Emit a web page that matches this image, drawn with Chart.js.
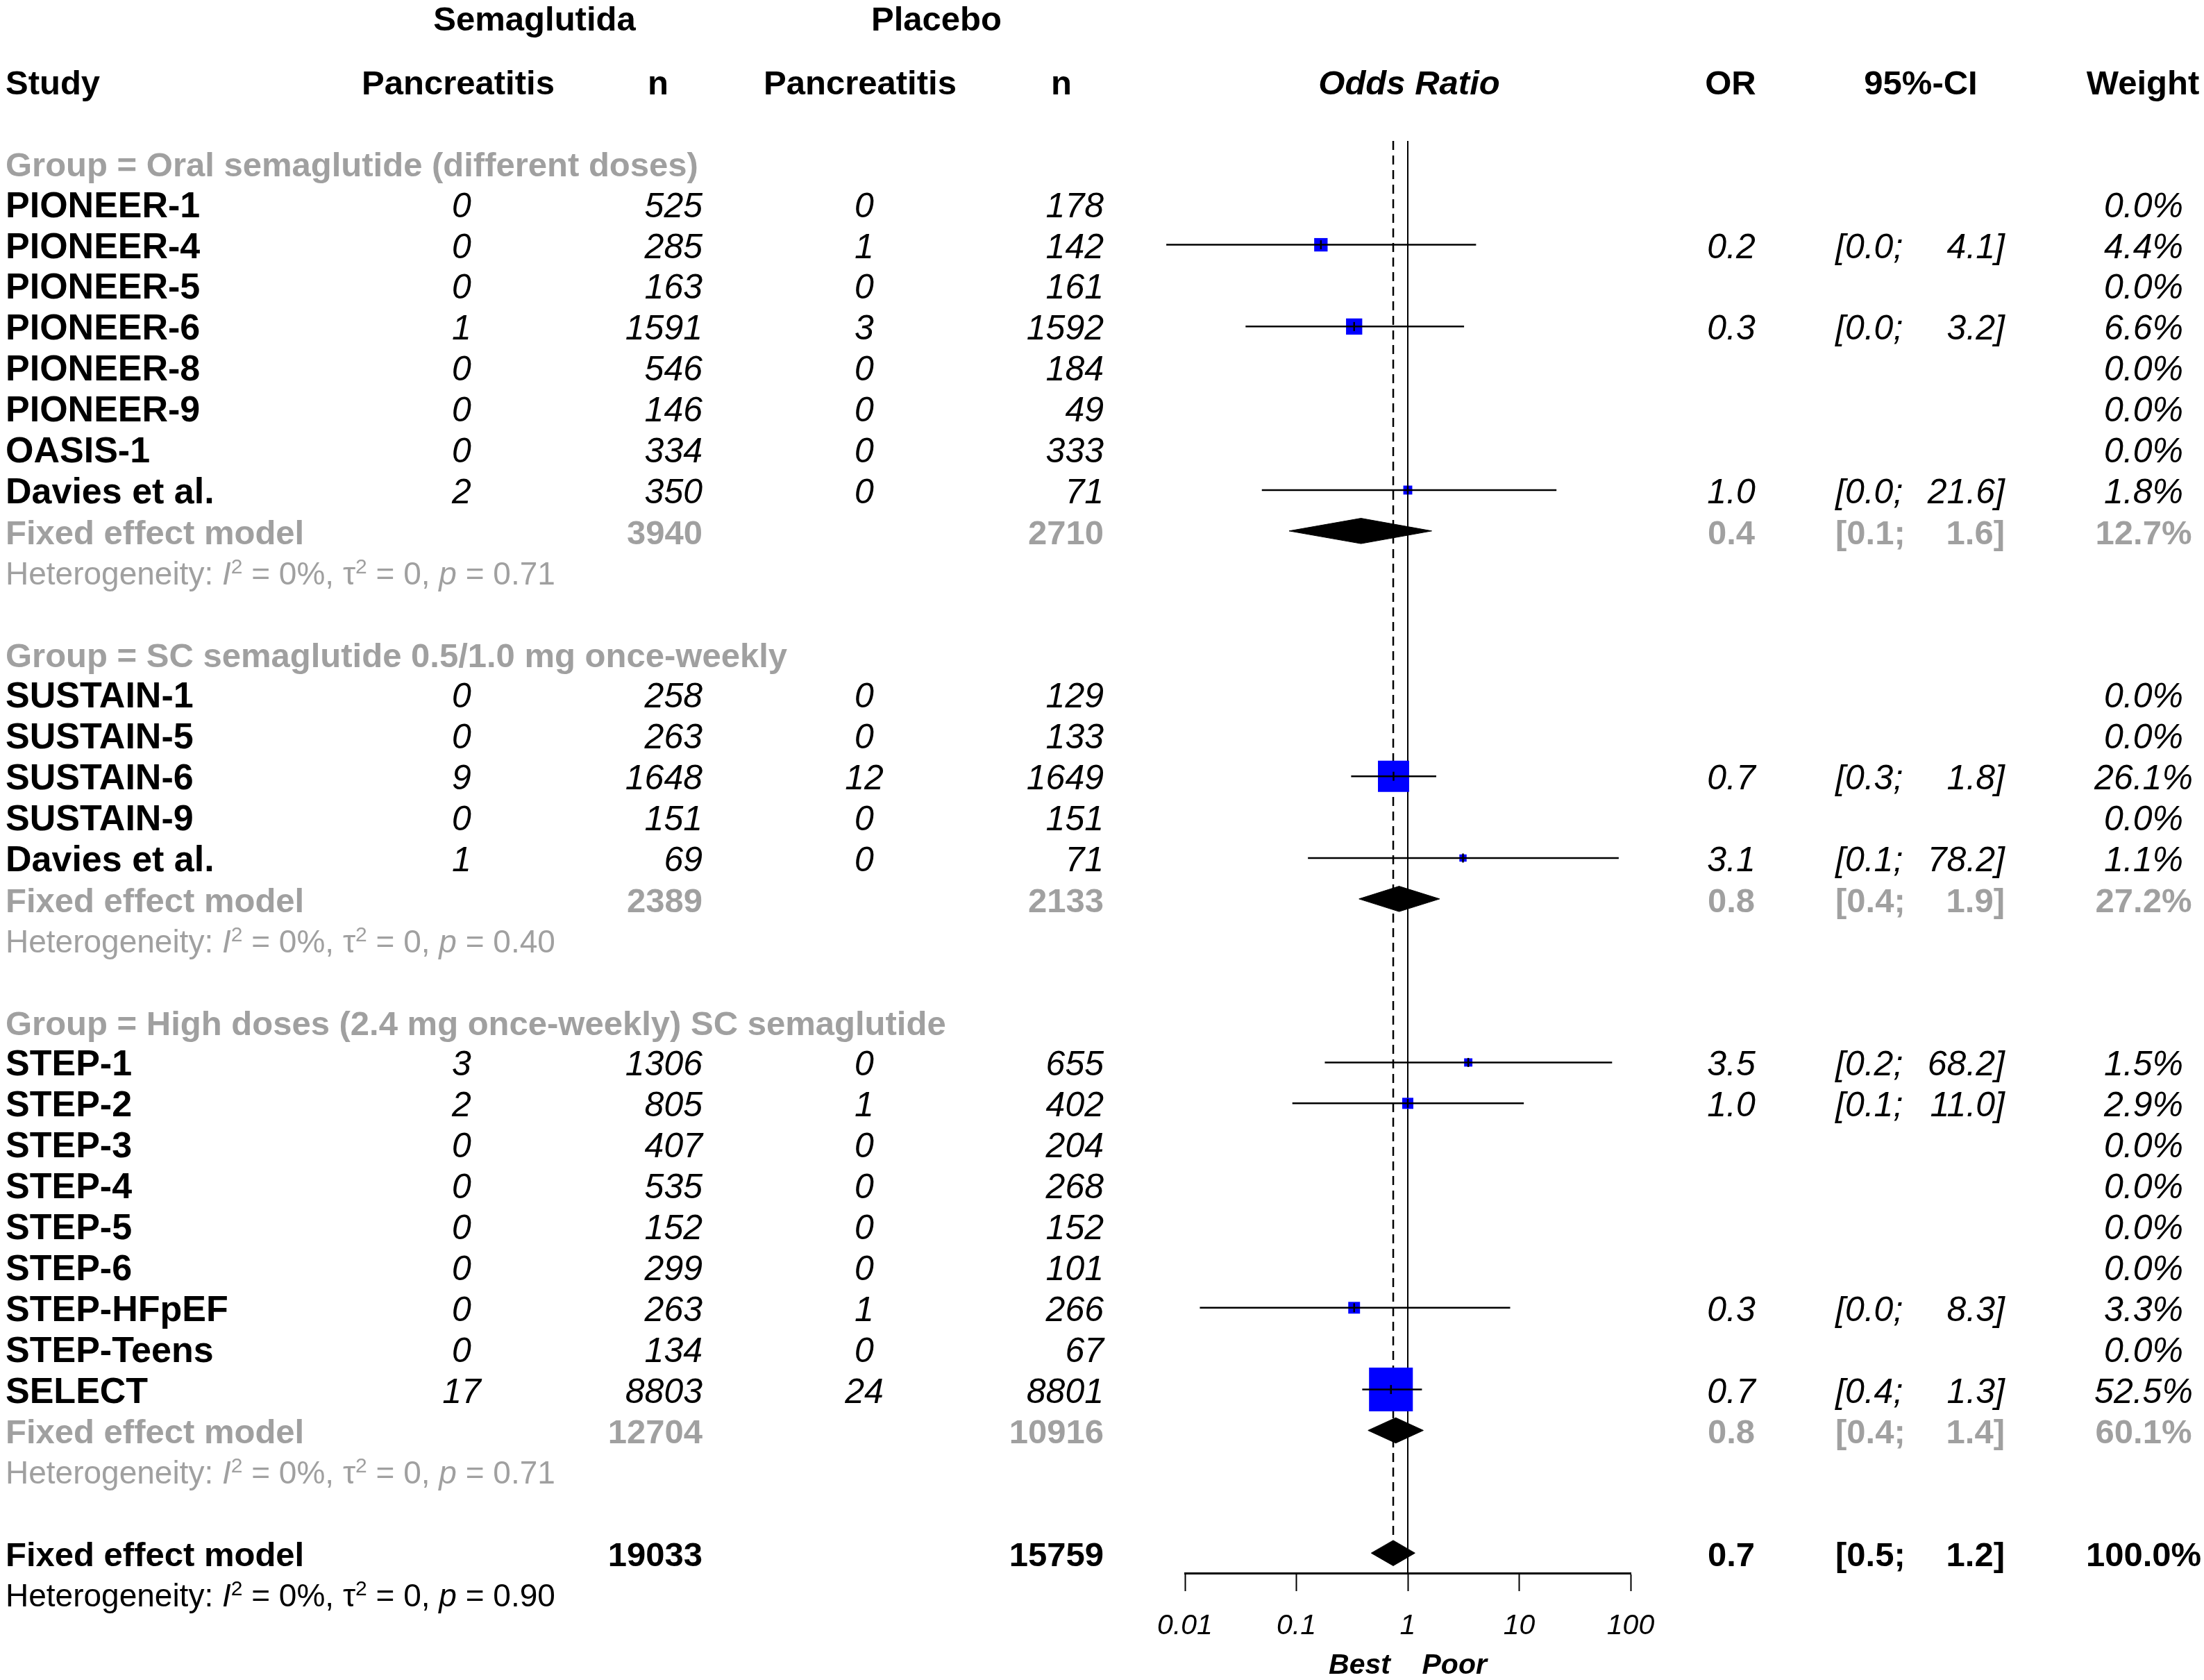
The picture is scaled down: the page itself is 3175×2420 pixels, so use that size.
<!DOCTYPE html>
<html>
<head>
<meta charset="utf-8">
<script src="https://cdn.jsdelivr.net/npm/chart.js@4.4.1/dist/chart.umd.min.js"></script>
<style>
  html, body { margin: 0; padding: 0; background: #fff; overflow: hidden; }
  #c { display: block; }
</style>
</head>
<body>
<canvas id="c" width="3175" height="2420"></canvas>
<script>
// ---- data ----
const groupTitles = [
    'Group = Oral semaglutide (different doses)',
    'Group = SC semaglutide 0.5/1.0 mg once-weekly',
    'Group = High doses (2.4 mg once-weekly) SC semaglutide'
];
const studyNames = ['PIONEER-1', 'PIONEER-4', 'PIONEER-5', 'PIONEER-6', 'PIONEER-8', 'PIONEER-9', 'OASIS-1', 'Davies et al.',
    'SUSTAIN-1', 'SUSTAIN-5', 'SUSTAIN-6', 'SUSTAIN-9', 'Davies et al.',
    'STEP-1', 'STEP-2', 'STEP-3', 'STEP-4', 'STEP-5', 'STEP-6', 'STEP-HFpEF', 'STEP-Teens', 'SELECT'];
const studyGroup    = [0, 0, 0, 0, 0, 0, 0, 0, 1, 1, 1, 1, 1, 2, 2, 2, 2, 2, 2, 2, 2, 2];
const semaEvents    = [0, 0, 0, 1, 0, 0, 0, 2, 0, 0, 9, 0, 1, 3, 2, 0, 0, 0, 0, 0, 0, 17];
const semaN         = [525, 285, 163, 1591, 546, 146, 334, 350, 258, 263, 1648, 151, 69, 1306, 805, 407, 535, 152, 299, 263, 134, 8803];
const placeboEvents = [0, 1, 0, 3, 0, 0, 0, 0, 0, 0, 12, 0, 0, 0, 1, 0, 0, 0, 0, 1, 0, 24];
const placeboN      = [178, 142, 161, 1592, 184, 49, 333, 71, 129, 133, 1649, 151, 71, 655, 402, 204, 268, 152, 101, 266, 67, 8801];
const oddsRatio = [null, 0.166, null, 0.33, null, null, null, 1.0, null, null, 0.745, null, 3.13, 3.49, 1.0, null, null, null, null, 0.33, null, 0.706];
const ciLower   = [null, 0.0068, null, 0.035, null, null, null, 0.049, null, null, 0.31, null, 0.127, 0.18, 0.092, null, null, null, null, 0.0136, null, 0.39];
const ciUpper   = [null, 4.1, null, 3.2, null, null, null, 21.6, null, null, 1.8, null, 78.2, 68.2, 11.0, null, null, null, null, 8.3, null, 1.34];
const weightPct = [0, 4.4, 0, 6.6, 0, 0, 0, 1.8, 0, 0, 26.1, 0, 1.1, 1.5, 2.9, 0, 0, 0, 0, 3.3, 0, 52.5];
// subgroups 1..3, then overall
const pooledOR     = [0.38, 0.836, 0.78, 0.74];
const pooledLower  = [0.086, 0.365, 0.44, 0.47];
const pooledUpper  = [1.64, 1.93, 1.38, 1.16];
const pooledWeight = [12.7, 27.2, 60.1, 100.0];
const hetI2  = ['0%', '0%', '0%', '0%'];
const hetTau = ['0', '0', '0', '0'];
const hetP   = ['0.71', '0.40', '0.71', '0.90'];
const axisTicks = [0.01, 0.1, 1, 10, 100];
const axisTickLabels = ['0.01', '0.1', '1', '10', '100'];

// ---- layout ----
const FAM = '"Liberation Sans", Arial, sans-serif';
const GRAY = '#a0a0a0';
const BLUE = '#0000ff';
const FS = 50, FS_NAME = 52, FS_HEAD = 49, FS_HET = 46;
const BASE = 19;           // baseline offset below row centre
const DIAMOND_H = 0.31;    // half height of diamonds, in rows
const yMin = 1.46, yMax = 36.49;
const COL = { study: 8, semaEv: 665, semaN: 1012, placEv: 1245, placN: 1590, or: 2494, ciL: 2644, ciR: 2888, w: 3088 };
const font = (size, bold, italic) => `${italic ? 'italic ' : ''}${bold ? 'bold ' : ''}${size}px ${FAM}`;

// rows: header row 0, group blocks from row 2
const groupRow = [], pooledRow = [], hetRow = [], studyRow = [];
let r = 2;
groupTitles.forEach((t, g) => {
    groupRow[g] = r++;
    studyNames.forEach((s, i) => { if (studyGroup[i] === g) studyRow[i] = r++; });
    pooledRow[g] = r++;
    hetRow[g] = r++;
    r++;
});
pooledRow[3] = r; hetRow[3] = r + 1;

const sum = (arr, g) => arr.reduce((a, v, i) => a + (g == null || studyGroup[i] === g ? v : 0), 0);

// ---- datasets ----
const datasets = [];
datasets.push({ data: [{ x: 1, y: yMin }, { x: 1, y: yMax }], borderColor: '#000', borderWidth: 2, pointRadius: 0, order: 5 });
datasets.push({ data: [{ x: pooledOR[3], y: yMin }, { x: pooledOR[3], y: pooledRow[3] - DIAMOND_H }],
    borderColor: '#000', borderWidth: 2.5, borderDash: [13, 8], pointRadius: 0, order: 5 });
const sq = [], sqR = [];
studyNames.forEach((s, i) => {
    if (oddsRatio[i] == null) return;
    datasets.push({ data: [{ x: ciLower[i], y: studyRow[i] }, { x: ciUpper[i], y: studyRow[i] }],
        borderColor: '#000', borderWidth: 2.5, pointRadius: 0, clip: false, order: 2 });
    sq.push({ x: oddsRatio[i], y: studyRow[i] });
    sqR.push((8.5 * Math.sqrt(weightPct[i]) + 1.5) / Math.SQRT2);
});
datasets.push({ data: sq, showLine: false, pointStyle: 'rect', pointRadius: sqR, pointHoverRadius: sqR,
    pointBackgroundColor: BLUE, pointBorderWidth: 0, order: 3 });
datasets.push({ data: sq, showLine: false, pointStyle: 'line', pointRotation: 90, pointRadius: 6.5, pointHoverRadius: 6.5,
    pointBorderColor: '#000', pointBorderWidth: 2.5, order: 1 });
pooledOR.forEach((or, g) => {
    const y = pooledRow[g];
    datasets.push({ data: [{ x: pooledLower[g], y }, { x: or, y: y - DIAMOND_H }, { x: pooledUpper[g], y }],
        borderColor: '#000', borderWidth: 1, backgroundColor: '#000', fill: '+1', pointRadius: 0, order: 0 });
    datasets.push({ data: [{ x: pooledLower[g], y }, { x: or, y: y + DIAMOND_H }, { x: pooledUpper[g], y }],
        borderColor: '#000', borderWidth: 1, fill: false, pointRadius: 0, order: 0 });
});

// ---- table text ----
function txt(ctx, s, x, y, align, f, color) {
    ctx.font = f; ctx.fillStyle = color; ctx.textAlign = align; ctx.textBaseline = 'alphabetic';
    ctx.fillText(s, x, y + BASE);
}
function hetText(ctx, g, y, color) {
    const n = font(FS_HET, false, false), sup = font(30, false, false);
    const parts = [
        ['Heterogeneity: ', n, 0], ['I', font(FS_HET, false, true), 0], ['2', sup, -16],
        [' = ' + hetI2[g] + ', ', n, 0], ['τ', n, 0], ['2', sup, -16],
        [' = ' + hetTau[g] + ', ', n, 0], ['p', font(FS_HET, false, true), 0], [' = ' + hetP[g], n, 0]
    ];
    let x = COL.study;
    ctx.fillStyle = color; ctx.textAlign = 'left'; ctx.textBaseline = 'alphabetic';
    parts.forEach(([s, f, dy]) => { ctx.font = f; ctx.fillText(s, x, y + BASE - 1 + dy); x += ctx.measureText(s).width; });
}
const tablePlugin = {
    id: 'forestTable',
    afterDraw(chart) {
        const ctx = chart.ctx, ys = chart.scales.y, xs = chart.scales.x;
        const Y = (row) => ys.getPixelForValue(row);
        ctx.save();
        const hb = font(FS_HEAD, true, false);
        txt(ctx, 'Semaglutida', 770, Y(-1.57), 'center', hb, '#000');
        txt(ctx, 'Placebo', 1349, Y(-1.57), 'center', hb, '#000');
        txt(ctx, 'Study', COL.study, Y(0), 'left', hb, '#000');
        txt(ctx, 'Pancreatitis', 660, Y(0), 'center', hb, '#000');
        txt(ctx, 'n', 948, Y(0), 'center', hb, '#000');
        txt(ctx, 'Pancreatitis', 1239, Y(0), 'center', hb, '#000');
        txt(ctx, 'n', 1529, Y(0), 'center', hb, '#000');
        txt(ctx, 'Odds Ratio', xs.getPixelForValue(1) + 2, Y(0), 'center', font(FS_HEAD, true, true), '#000');
        txt(ctx, 'OR', 2493, Y(0), 'center', hb, '#000');
        txt(ctx, '95%-CI', 2767, Y(0), 'center', hb, '#000');
        txt(ctx, 'Weight', 3087, Y(0), 'center', hb, '#000');

        const it = font(FS, false, true), nb = font(FS_NAME, true, false);
        studyNames.forEach((s, i) => {
            const y = Y(studyRow[i]);
            txt(ctx, s, COL.study, y, 'left', nb, '#000');
            txt(ctx, String(semaEvents[i]), COL.semaEv, y, 'center', it, '#000');
            txt(ctx, String(semaN[i]), COL.semaN, y, 'right', it, '#000');
            txt(ctx, String(placeboEvents[i]), COL.placEv, y, 'center', it, '#000');
            txt(ctx, String(placeboN[i]), COL.placN, y, 'right', it, '#000');
            if (oddsRatio[i] != null) {
                txt(ctx, oddsRatio[i].toFixed(1), COL.or, y, 'center', it, '#000');
                txt(ctx, '[' + ciLower[i].toFixed(1) + ';', COL.ciL, y, 'left', it, '#000');
                txt(ctx, ciUpper[i].toFixed(1) + ']', COL.ciR, y, 'right', it, '#000');
            }
            txt(ctx, weightPct[i].toFixed(1) + '%', COL.w, y, 'center', it, '#000');
        });
        pooledOR.forEach((or, g) => {
            const overall = g === 3;
            const c = overall ? '#000' : GRAY;
            const gg = overall ? null : g;
            if (!overall) txt(ctx, groupTitles[g], COL.study, Y(groupRow[g]), 'left', hb, GRAY);
            const y = Y(pooledRow[g]);
            txt(ctx, 'Fixed effect model', COL.study, y, 'left', hb, c);
            txt(ctx, String(sum(semaN, gg)), COL.semaN, y, 'right', hb, c);
            txt(ctx, String(sum(placeboN, gg)), COL.placN, y, 'right', hb, c);
            txt(ctx, or.toFixed(1), COL.or, y, 'center', hb, c);
            txt(ctx, '[' + pooledLower[g].toFixed(1) + ';', COL.ciL, y, 'left', hb, c);
            txt(ctx, pooledUpper[g].toFixed(1) + ']', COL.ciR, y, 'right', hb, c);
            txt(ctx, pooledWeight[g].toFixed(1) + '%', COL.w, y, 'center', hb, c);
            hetText(ctx, g, Y(hetRow[g]), c);
        });
        ctx.restore();
    }
};

Chart.defaults.font.family = FAM;
new Chart(document.getElementById('c'), {
    type: 'line',
    data: { datasets },
    options: {
        responsive: false,
        devicePixelRatio: 1,
        animation: false,
        events: [],
        layout: { padding: { left: 1707, right: 826, top: 203, bottom: 0 } },
        plugins: { legend: { display: false }, tooltip: { enabled: false } },
        scales: {
            x: {
                type: 'logarithmic', min: 0.01, max: 100,
                afterBuildTicks: (scale) => { scale.ticks = axisTicks.map(v => ({ value: v })); },
                ticks: { callback: (v, i) => axisTickLabels[i], font: { size: 41, style: 'italic', lineHeight: 1.2 }, color: '#000',
                    padding: 26.4, autoSkip: false, maxRotation: 0 },
                grid: { drawOnChartArea: false, drawTicks: true, tickLength: 26, tickWidth: 2, tickColor: '#000' },
                border: { display: true, color: '#000', width: 3 },
                title: { display: true, text: 'Best    Poor', color: '#000',
                    font: { size: 41, weight: 'bold', style: 'italic', lineHeight: '12px' }, padding: { top: 0, bottom: 14 } }
            },
            y: { type: 'linear', reverse: true, min: yMin, max: yMax, display: false }
        }
    },
    plugins: [tablePlugin]
});
</script>
</body>
</html>
